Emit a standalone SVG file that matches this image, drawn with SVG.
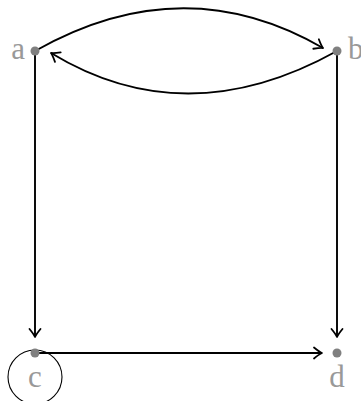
<svg xmlns="http://www.w3.org/2000/svg" width="361" height="401" viewBox="0 0 361 401">
<style>
.e{fill:none;stroke:#000;stroke-width:1.9}
.dot{fill:#808080}
.lbl{font-family:"Liberation Serif",serif;font-size:31px;fill:#999}
</style>
<defs>
<marker id="ar" markerUnits="userSpaceOnUse" markerWidth="16" markerHeight="16" viewBox="-10 -8 12 16" refX="0" refY="0" orient="auto">
<path d="M-8,-5.5 Q-2.5,-1 0,0 Q-2.5,1 -8,5.5" fill="none" stroke="#000" stroke-width="1.8" stroke-linecap="round" stroke-linejoin="round"/>
</marker>
</defs>
<rect width="361" height="401" fill="#fff"/>
<g id="edges">
<path class="e" d="M35,51 Q183,-33 323,48" marker-end="url(#ar)"/>
<path class="e" d="M337,51 Q186,135 51,53" marker-end="url(#ar)"/>
<path class="e" d="M35,51 L35,337" marker-end="url(#ar)"/>
<path class="e" d="M337,51 L337,337" marker-end="url(#ar)"/>
<path class="e" d="M35,353 L322,353" marker-end="url(#ar)"/>
<circle cx="35" cy="377" r="27" fill="none" stroke="#000" stroke-width="1.1"/>
</g>
<g id="a"><circle class="dot" cx="35" cy="51" r="4.5"/><text class="lbl" x="25" y="59" text-anchor="end">a</text></g>
<g id="b"><circle class="dot" cx="337" cy="51" r="4.5"/><text class="lbl" x="348" y="59">b</text></g>
<g id="c"><circle class="dot" cx="35" cy="353" r="4.5"/><text class="lbl" x="35" y="387" text-anchor="middle">c</text></g>
<g id="d"><circle class="dot" cx="337" cy="353" r="4.5"/><text class="lbl" x="337" y="387" text-anchor="middle">d</text></g>
</svg>
